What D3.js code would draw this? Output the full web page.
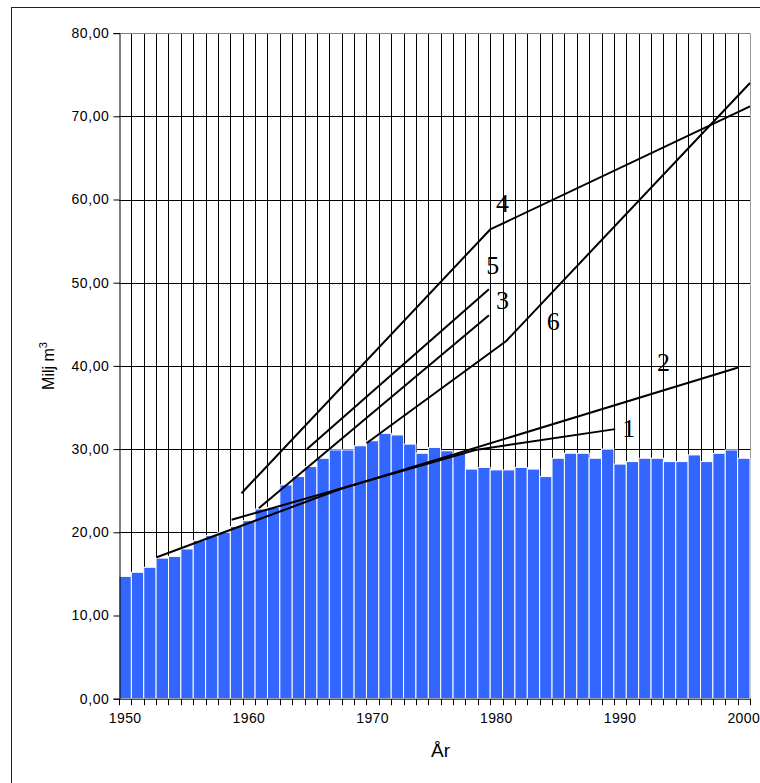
<!DOCTYPE html>
<html>
<head>
<meta charset="utf-8">
<script src="https://cdn.jsdelivr.net/npm/d3@7"></script>
<style>
  html, body { margin: 0; padding: 0; background: #fff; }
  svg { display: block; }
</style>
</head>
<body>
<div id="chart"></div>
<script>
// Annual volume, million m³
const years = [1950, 1951, 1952, 1953, 1954, 1955, 1956, 1957, 1958, 1959,
               1960, 1961, 1962, 1963, 1964, 1965, 1966, 1967, 1968, 1969,
               1970, 1971, 1972, 1973, 1974, 1975, 1976, 1977, 1978, 1979,
               1980, 1981, 1982, 1983, 1984, 1985, 1986, 1987, 1988, 1989,
               1990, 1991, 1992, 1993, 1994, 1995, 1996, 1997, 1998, 1999, 2000];
const volumes = [14.7, 15.2, 15.8, 16.9, 17.1, 18.0, 19.0, 19.6, 20.0, 20.7,
                 21.4, 22.8, 23.0, 25.7, 26.7, 27.9, 28.9, 29.9, 29.9, 30.4,
                 31.0, 31.9, 31.7, 30.6, 29.5, 30.2, 29.8, 29.5, 27.6, 27.8,
                 27.5, 27.5, 27.8, 27.6, 26.7, 28.9, 29.5, 29.5, 28.9, 30.0,
                 28.2, 28.5, 28.9, 28.9, 28.5, 28.5, 29.3, 28.5, 29.5, 29.9, 28.9];

// Forecast lines: [year, volume] vertices
const forecast1 = [[1958.6, 21.5], [1978.3, 29.9], [1989.6, 32.4]];
const forecast2 = [[1952.55, 17.0], [1967.4, 25.2], [1999.55, 39.8]];
const forecast3 = [[1960.8, 22.9], [1979.4, 46.1]];
const forecast4 = [[1959.4, 24.7], [1979.5, 56.4], [2000.5, 71.2]];
const forecast5 = [[1964.7, 30.0], [1979.4, 49.2]];
const forecast6 = [[1969.5, 30.7], [1980.8, 43.0], [2000.5, 74.0]];
const forecasts = [forecast1, forecast2, forecast3, forecast4, forecast5, forecast6];

// Line numbers and where they sit: [label, year, volume]
const lineLabels = [["1", 1990.7, 32.5], ["2", 1993.5, 40.4], ["3", 1980.5, 47.9],
                    ["4", 1980.5, 59.5], ["5", 1979.7, 52.1], ["6", 1984.6, 45.3]];

const yTicks = [0, 10, 20, 30, 40, 50, 60, 70, 80];
const xTickYears = [1950, 1960, 1970, 1980, 1990, 2000];

const W = 760, H = 783;
const plot = { left: 119, right: 750, top: 33.1, bottom: 698.7 };

const svg = d3.select("#chart").append("svg")
  .attr("width", W).attr("height", H);

// outer chart frame
svg.append("rect")
  .attr("x", 11.5).attr("y", 7.5).attr("width", 800).attr("height", 800)
  .attr("fill", "#fff").attr("stroke", "#222").attr("stroke-width", 1);

const x = d3.scaleBand().domain(years).range([plot.left, plot.right]).padding(0);
const bw = x.bandwidth();
const xl = d3.scaleLinear().domain([1950, 2000])
  .range([x(1950) + bw / 2, x(2000) + bw / 2]);
const y = d3.scaleLinear().domain([0, 80]).range([plot.bottom, plot.top]);

// vertical grid at category boundaries
const g = svg.append("g");
const bounds = years.map(d => x(d)).concat([plot.right]);
g.selectAll("line.vg").data(bounds.slice(1, -1)).join("line")
  .attr("x1", d => Math.round(d) + 0.5).attr("x2", d => Math.round(d) + 0.5)
  .attr("y1", plot.top).attr("y2", plot.bottom)
  .attr("stroke", "#000").attr("stroke-width", 1);

// horizontal grid
g.selectAll("line.hg").data(yTicks.slice(1)).join("line")
  .attr("x1", plot.left).attr("x2", plot.right)
  .attr("y1", d => Math.round(y(d)) + 0.5).attr("y2", d => Math.round(y(d)) + 0.5)
  .attr("stroke", d => d === 80 ? "#808080" : "#000").attr("stroke-width", 1);

// right border of plot area
svg.append("line")
  .attr("x1", plot.right + 0.5).attr("x2", plot.right + 0.5)
  .attr("y1", plot.top).attr("y2", plot.bottom)
  .attr("stroke", "#999").attr("stroke-width", 1);

// bars
svg.append("g").selectAll("rect").data(years).join("rect")
  .attr("x", d => x(d))
  .attr("y", (d, i) => y(volumes[i]))
  .attr("width", bw)
  .attr("height", (d, i) => plot.bottom - y(volumes[i]))
  .attr("fill", "#3366ff")
  .attr("stroke", "#fff").attr("stroke-width", 1);

// y axis
const yAxis = d3.axisLeft(y).tickValues(yTicks).tickSize(6)
  .tickFormat(d => d3.format(".2f")(d).replace(".", ","));
const ya = svg.append("g").attr("transform", `translate(${plot.left + 0.5},0)`).call(yAxis);
ya.select(".domain").attr("stroke", "#000");
ya.selectAll(".tick line").attr("stroke", "#000");
ya.selectAll("text")
  .attr("font-family", "Liberation Sans, Arial, sans-serif")
  .attr("font-size", 14).attr("letter-spacing", 0.6)
  .attr("fill", "#000").attr("x", -10);

// x axis: ticks between categories, labels every ten years
const xa = svg.append("g").attr("transform", `translate(0,${plot.bottom + 0.5})`);
xa.append("line").attr("x1", plot.left).attr("x2", plot.right + 1)
  .attr("stroke", "#000");
xa.selectAll("line.tk").data(bounds).join("line")
  .attr("x1", d => Math.round(d) + 0.5).attr("x2", d => Math.round(d) + 0.5)
  .attr("y1", 0).attr("y2", 6).attr("stroke", "#000");
xa.selectAll("text").data(xTickYears).join("text")
  .attr("x", d => x(d) + bw / 2).attr("y", 24)
  .attr("text-anchor", "middle")
  .attr("font-family", "Liberation Sans, Arial, sans-serif")
  .attr("font-size", 14).attr("letter-spacing", 0.4)
  .text(d => d);

// axis titles
svg.append("text")
  .attr("x", (plot.left + plot.right) / 2 + 6).attr("y", 757)
  .attr("text-anchor", "middle")
  .attr("font-family", "Liberation Sans, Arial, sans-serif")
  .attr("font-size", 19).text("År");

const yt = svg.append("text")
  .attr("transform", "translate(54,366) rotate(-90)")
  .attr("text-anchor", "middle")
  .attr("font-family", "Liberation Sans, Arial, sans-serif")
  .attr("font-size", 16);
yt.append("tspan").text("Milj m");
yt.append("tspan").attr("dy", -7).attr("font-size", 11).text("3");

// forecast lines
const line = d3.line().x(d => xl(d[0])).y(d => y(d[1]));
svg.append("g").selectAll("path").data(forecasts).join("path")
  .attr("d", line)
  .attr("fill", "none").attr("stroke", "#000")
  .attr("stroke-width", 2).attr("stroke-linejoin", "round");

svg.append("g").selectAll("text").data(lineLabels).join("text")
  .attr("x", d => xl(d[1])).attr("y", d => y(d[2]))
  .attr("text-anchor", "middle").attr("dominant-baseline", "central")
  .attr("font-family", "Liberation Serif, Times New Roman, serif")
  .attr("font-size", 26)
  .text(d => d[0]);
</script>
</body>
</html>
